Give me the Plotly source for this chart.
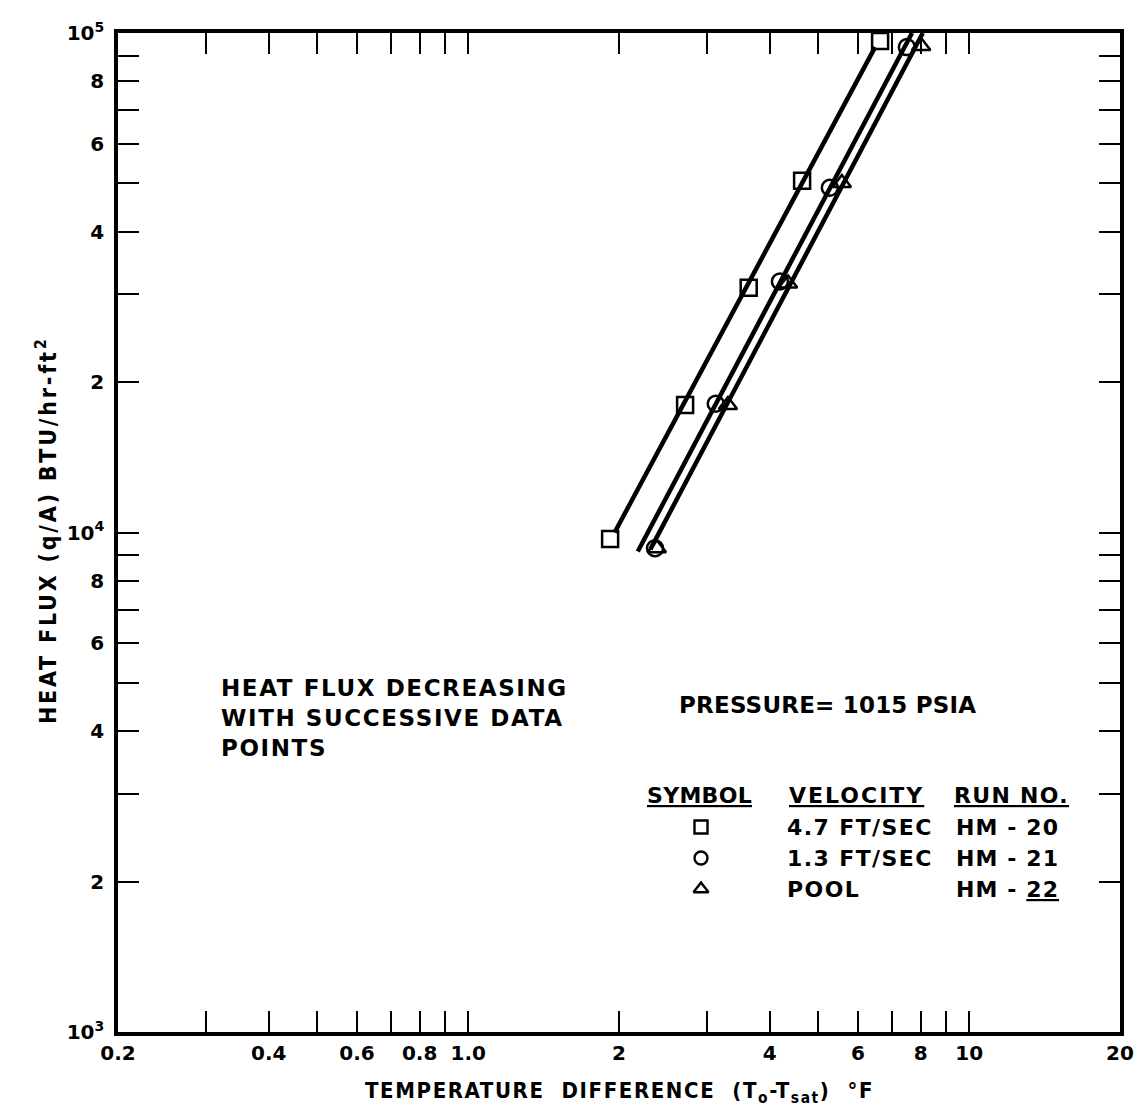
import plotly.graph_objects as go

# ---- data ----
sq_x = [6.64, 4.64, 3.63, 2.71, 1.92]
sq_y = [96400, 50600, 30900, 18000, 9700]
ci_x = [7.51, 5.27, 4.19, 3.12, 2.36]
ci_y = [93700, 49000, 31800, 18100, 9300]
tr_x = [8.02, 5.57, 4.35, 3.30, 2.38]
tr_y = [94200, 50100, 31500, 18000, 9300]

# faired straight lines through each run
sq_fit_x = [1.96, 6.49]
sq_fit_y = [10000, 93700]
ci_fit_x = [2.18, 7.69]
ci_fit_y = [9160, 100000]
tr_fit_x = [2.31, 8.08]
tr_fit_y = [9250, 100000]

x_tickvals = [0.2, 0.3, 0.4, 0.5, 0.6, 0.7, 0.8, 0.9, 1.0, 2, 3, 4, 5, 6, 7, 8, 9, 10, 20]
x_ticktext = ["0.2", "", "0.4", "", "0.6", "", "0.8", "", "1.0", "2", "", "4", "", "6", "", "8", "", "10", "20"]
y_tickvals = [1000, 2000, 3000, 4000, 5000, 6000, 7000, 8000, 9000,
              10000, 20000, 30000, 40000, 50000, 60000, 70000, 80000, 90000, 100000]
y_ticktext = ["10<sup>3</sup>", "2", "", "4", "", "6", "", "8", "",
              "10<sup>4</sup>", "2", "", "4", "", "6", "", "8", "", "10<sup>5</sup>"]

legend_symbols = ["square-open", "circle-open", "triangle-up-open"]
legend_velocity = ["4.7 FT/SEC", "1.3 FT/SEC", "POOL"]
legend_run = ["HM - 20", "HM - 21", "HM - <u>22</u>"]

FONT = "DejaVu Sans"
fig = go.Figure()

for fx, fy in [(sq_fit_x, sq_fit_y), (ci_fit_x, ci_fit_y), (tr_fit_x, tr_fit_y)]:
    fig.add_trace(go.Scatter(x=fx, y=fy, mode="lines",
                             line=dict(color="black", width=4.5), showlegend=False))

for xs, ys, sym in [(sq_x, sq_y, "square-open"), (ci_x, ci_y, "circle-open"), (tr_x, tr_y, "triangle-up-open")]:
    fig.add_trace(go.Scatter(x=xs, y=ys, mode="markers", cliponaxis=False,
                             marker=dict(symbol=sym, size=16, color="black",
                                         line=dict(color="black", width=2.5)),
                             showlegend=False))

# page pixel -> paper fraction helpers (plot area spans x 118..1120, y 33..1032)
def px_x(p):
    return (p - 118) / 1002.0

def px_y(p):
    return 1 - (p - 33) / 999.0

# legend symbols on an overlay axis
leg_y = [px_y(827), px_y(858), px_y(889)]
fig.add_trace(go.Scatter(x=[px_x(701)] * 3, y=leg_y, mode="markers", xaxis="x2", yaxis="y2",
                         marker=dict(symbol=legend_symbols, size=13, color="black",
                                     line=dict(color="black", width=2.4)),
                         showlegend=False))

axis_common = dict(showgrid=False, zeroline=False, ticks="inside", ticklen=21, tickwidth=2,
                   tickcolor="black", showline=True, linecolor="black", linewidth=3.5,
                   mirror="allticks", automargin=False,
                   tickfont=dict(family=FONT, size=20, color="black", weight="bold"))

# the page body has an 8px margin, so the figure is 8px smaller and margins reduced by 8
fig.update_layout(
    width=1140, height=1111,
    paper_bgcolor="white", plot_bgcolor="white",
    margin=dict(l=110, r=28, t=25, b=87, autoexpand=False),
    xaxis=dict(type="log", range=[-0.69897, 1.30103], tickmode="array",
               tickvals=x_tickvals, ticktext=x_ticktext, ticklabelstandoff=0,
               **axis_common),
    yaxis=dict(type="log", range=[3, 5], tickmode="array",
               tickvals=y_tickvals, ticktext=y_ticktext, ticklabelstandoff=6,
               **axis_common),
    xaxis2=dict(range=[0, 1], overlaying="x", visible=False),
    yaxis2=dict(range=[0, 1], overlaying="y", visible=False),
    showlegend=False,
)

def sp(text, s):
    return '<span style="letter-spacing:%spx">%s</span>' % (s, text)

tf = dict(family=FONT, size=23, color="black", weight="bold")
fig.add_annotation(xref="paper", yref="paper", x=px_x(219), y=px_y(718),
                   xanchor="left", yanchor="middle", align="left", showarrow=False,
                   text=sp("HEAT FLUX DECREASING", 1.6) + "<br>" + sp("WITH SUCCESSIVE DATA", 1.6)
                   + "<br>" + sp("POINTS", 1.6), font=tf)
fig.add_annotation(xref="paper", yref="paper", x=px_x(677), y=px_y(705),
                   xanchor="left", yanchor="middle", showarrow=False,
                   text=sp("PRESSURE= 1015 PSIA", 0.2), font=tf)

tf2 = dict(family=FONT, size=22, color="black", weight="bold")
hdr_y = px_y(795)
fig.add_annotation(xref="paper", yref="paper", x=px_x(645), y=hdr_y, xanchor="left",
                   yanchor="middle", showarrow=False, text="<u>" + sp("SYMBOL", 0.3) + "</u>", font=tf2)
fig.add_annotation(xref="paper", yref="paper", x=px_x(787), y=hdr_y, xanchor="left",
                   yanchor="middle", showarrow=False, text="<u>" + sp("VELOCITY", 2) + "</u>", font=tf2)
fig.add_annotation(xref="paper", yref="paper", x=px_x(952), y=hdr_y, xanchor="left",
                   yanchor="middle", showarrow=False, text="<u>" + sp("RUN NO.", 1.3) + "</u>", font=tf2)
for yy, vel, run in zip(leg_y, legend_velocity, legend_run):
    fig.add_annotation(xref="paper", yref="paper", x=px_x(785), y=yy, xanchor="left",
                       yanchor="middle", showarrow=False, text=sp(vel, 1.4), font=tf2)
    fig.add_annotation(xref="paper", yref="paper", x=px_x(954), y=yy, xanchor="left",
                       yanchor="middle", showarrow=False, text=sp(run, 1.1), font=tf2)

# axis titles
fig.add_annotation(xref="paper", yref="paper", x=0.5, y=px_y(1092), xanchor="center",
                   yanchor="middle", showarrow=False,
                   text=sp("TEMPERATURE  DIFFERENCE  (T<sub>o</sub>-T<sub>sat</sub>)  °F", 1.6),
                   font=dict(family="DejaVu Sans Condensed", size=22, color="black", weight="bold"))
fig.add_annotation(xref="paper", yref="paper", x=px_x(46), y=px_y(530), xanchor="center",
                   yanchor="middle", showarrow=False, textangle=-90,
                   text=sp("HEAT FLUX (q/A) BTU/hr-ft<sup>2</sup>", 2.8),
                   font=dict(family="DejaVu Sans Condensed", size=23, color="black", weight="bold"))

fig.write_html("out.html")
